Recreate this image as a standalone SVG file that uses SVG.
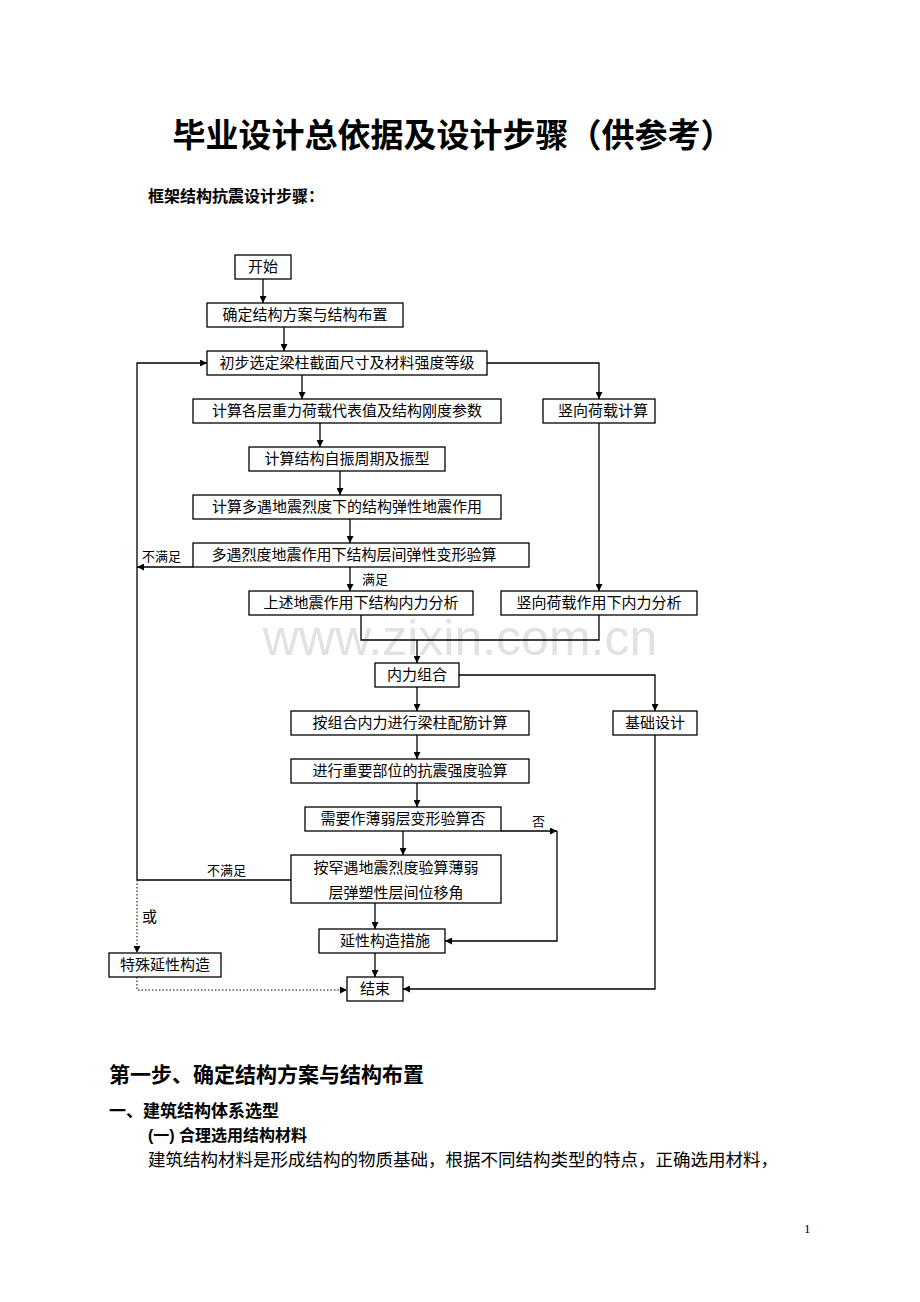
<svg xmlns="http://www.w3.org/2000/svg" width="920" height="1302" viewBox="0 0 920 1302">
<style>
.n rect{fill:#fff;stroke:#000;stroke-width:1.3}
.n text,.t{font-family:"Liberation Serif","Noto Sans CJK SC",serif;font-size:15px;fill:#000}
.n text{text-anchor:middle}
.c path{fill:none;stroke:#000;stroke-width:1.3}
.c .d{stroke-dasharray:1.5 2;stroke-width:1}
.s{font-family:"Liberation Serif","Noto Sans CJK SC",serif;font-size:13px}
.b{font-family:"Liberation Sans","Noto Sans CJK SC",sans-serif;font-weight:bold;fill:#000}
</style>
<defs><marker id="a" viewBox="0 0 10 10" refX="10" refY="5" markerWidth="7" markerHeight="7" orient="auto" markerUnits="userSpaceOnUse"><path d="M0,0L10,5L0,10z"/></marker></defs>
<rect width="920" height="1302" fill="#fff"/>
<text class="b" x="453" y="147" font-size="33" text-anchor="middle">毕业设计总依据及设计步骤（供参考）</text>
<text class="b" x="148" y="202" font-size="16">框架结构抗震设计步骤：</text>
<text x="460" y="655" font-family="Liberation Sans,sans-serif" font-size="50" fill="#e2e2e2" text-anchor="middle">www.zixin.com.cn</text>
<g class="c">
<path d="M263,279V303" marker-end="url(#a)"/>
<path d="M284,327V351" marker-end="url(#a)"/>
<path d="M137,880V363H207" marker-end="url(#a)"/>
<path d="M193,567H137" marker-end="url(#a)"/>
<path d="M487,363H599V399" marker-end="url(#a)"/>
<path d="M302,375V399" marker-end="url(#a)"/>
<path d="M320,423V447" marker-end="url(#a)"/>
<path d="M340,471V495" marker-end="url(#a)"/>
<path d="M350,519V543" marker-end="url(#a)"/>
<path d="M350,567V591" marker-end="url(#a)"/>
<path d="M599,423V591" marker-end="url(#a)"/>
<path d="M361,615V640H599V615"/>
<path d="M417,640V663" marker-end="url(#a)"/>
<path d="M459,675H655V711" marker-end="url(#a)"/>
<path d="M417,687V711" marker-end="url(#a)"/>
<path d="M417,735V759" marker-end="url(#a)"/>
<path d="M417,783V807" marker-end="url(#a)"/>
<path d="M403,831V855" marker-end="url(#a)"/>
<path d="M501,831H557" marker-end="url(#a)"/>
<path d="M557,831V941H445" marker-end="url(#a)"/>
<path d="M291,880H137"/>
<path d="M375,903V929" marker-end="url(#a)"/>
<path d="M375,953V977" marker-end="url(#a)"/>
<path d="M655,735V989H403" marker-end="url(#a)"/>
<path class="d" d="M137,880V953" marker-end="url(#a)"/>
<path class="d" d="M137,977V990H347" marker-end="url(#a)"/>
</g>
<text class="t s" x="142" y="561">不满足</text>
<text class="t s" x="362" y="584">满足</text>
<text class="t s" x="532" y="826">否</text>
<text class="t s" x="207" y="875">不满足</text>
<text class="t" x="142" y="922">或</text>
<g class="n" id="n1"><rect x="235" y="255" width="56" height="24"/><text x="263" y="272">开始</text></g>
<g class="n" id="n2"><rect x="207" y="303" width="196" height="24"/><text x="305" y="320">确定结构方案与结构布置</text></g>
<g class="n" id="n3"><rect x="207" y="351" width="280" height="24"/><text x="347" y="368">初步选定梁柱截面尺寸及材料强度等级</text></g>
<g class="n" id="n4"><rect x="193" y="399" width="308" height="24"/><text x="347" y="416">计算各层重力荷载代表值及结构刚度参数</text></g>
<g class="n" id="n5"><rect x="543" y="399" width="112" height="24"/><text x="603" y="416">竖向荷载计算</text></g>
<g class="n" id="n6"><rect x="249" y="447" width="196" height="24"/><text x="347" y="464">计算结构自振周期及振型</text></g>
<g class="n" id="n7"><rect x="193" y="495" width="308" height="24"/><text x="347" y="512">计算多遇地震烈度下的结构弹性地震作用</text></g>
<g class="n" id="n8"><rect x="193" y="543" width="336" height="24"/><text x="354" y="560">多遇烈度地震作用下结构层间弹性变形验算</text></g>
<g class="n" id="n9"><rect x="249" y="591" width="224" height="24"/><text x="361" y="608">上述地震作用下结构内力分析</text></g>
<g class="n" id="n10"><rect x="501" y="591" width="196" height="24"/><text x="599" y="608">竖向荷载作用下内力分析</text></g>
<g class="n" id="n11"><rect x="375" y="663" width="84" height="24"/><text x="417" y="680">内力组合</text></g>
<g class="n" id="n12"><rect x="613" y="711" width="84" height="24"/><text x="655" y="728">基础设计</text></g>
<g class="n" id="n13"><rect x="291" y="711" width="238" height="24"/><text x="410" y="728">按组合内力进行梁柱配筋计算</text></g>
<g class="n" id="n14"><rect x="291" y="759" width="238" height="24"/><text x="410" y="776">进行重要部位的抗震强度验算</text></g>
<g class="n" id="n15"><rect x="305" y="807" width="196" height="24"/><text x="403" y="824">需要作薄弱层变形验算否</text></g>
<g class="n" id="n16"><rect x="291" y="855" width="210" height="48"/><text x="396" y="873">按罕遇地震烈度验算薄弱</text><text x="396" y="898">层弹塑性层间位移角</text></g>
<g class="n" id="n17"><rect x="319" y="929" width="126" height="24"/><text x="385" y="946">延性构造措施</text></g>
<g class="n" id="n18"><rect x="109" y="953" width="112" height="24"/><text x="165" y="970">特殊延性构造</text></g>
<g class="n" id="n19"><rect x="347" y="977" width="56" height="24"/><text x="375" y="994">结束</text></g>
<text class="b" x="109" y="1082" font-size="21">第一步、确定结构方案与结构布置</text>
<text class="b" x="109" y="1117" font-size="17">一、建筑结构体系选型</text>
<text class="b" x="148" y="1141" font-size="16">(一) 合理选用结构材料</text>
<text class="t" x="148" y="1166" style="font-size:17.5px">建筑结构材料是形成结构的物质基础，根据不同结构类型的特点，正确选用材料，</text>
<text class="t" x="804" y="1233" style="font-size:13px">1</text>
</svg>
